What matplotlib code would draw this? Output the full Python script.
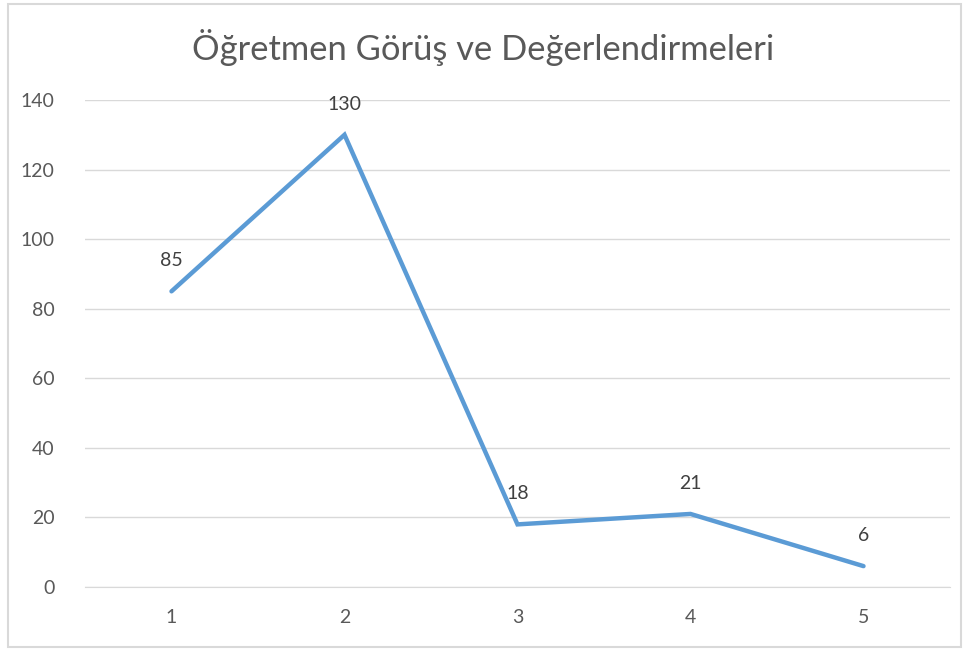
import matplotlib.pyplot as plt
from matplotlib.patches import Rectangle

# chart data
categories = ["1", "2", "3", "4", "5"]
values = [85, 130, 18, 21, 6]
yticks = [0, 20, 40, 60, 80, 100, 120, 140]
title = "Öğretmen Görüş ve Değerlendirmeleri"

plt.rcParams['font.family'] = ['Lato', 'DejaVu Sans']

W, H = 967, 651
fig = plt.figure(figsize=(W / 100, H / 100), dpi=100)
ax = fig.add_axes([85 / W, (H - 587) / H, (950 - 85) / W, (587 - 100) / H])

# outer chart border
fig.patches.append(Rectangle((8 / W, 4 / H), (961 - 8) / W, (647 - 4) / H,
                             transform=fig.transFigure, fill=False,
                             edgecolor='#d9d9d9', linewidth=1.5))

x = list(range(1, len(values) + 1))
ax.plot(x, values, color='#5b9bd5', linewidth=3.2, solid_capstyle='round',
        solid_joinstyle='miter', zorder=3)
for xi, v in zip(x, values):
    ax.annotate(str(v), (xi, v), xytext=(0, 16), textcoords='offset points',
                ha='center', va='bottom', fontsize=14, color='#404040')

ax.set_xlim(0.5, len(values) + 0.5)
ax.set_ylim(0, 140)
ax.set_xticks(x)
ax.set_xticklabels(categories)
ax.set_yticks(yticks)
ax.grid(axis='y', color='#d9d9d9', linewidth=1)
ax.set_axisbelow(True)
for s in ['top', 'right', 'left']:
    ax.spines[s].set_visible(False)
ax.spines['bottom'].set_color('#d9d9d9')
ax.tick_params(length=0, labelsize=14, labelcolor='#595959')
ax.tick_params(axis='y', pad=22)
ax.tick_params(axis='x', pad=16)

fig.text(0.5, (H - 47) / H, title, ha='center', va='center', fontsize=24.8,
         color='#595959')

fig.savefig('out.png', dpi=100)
